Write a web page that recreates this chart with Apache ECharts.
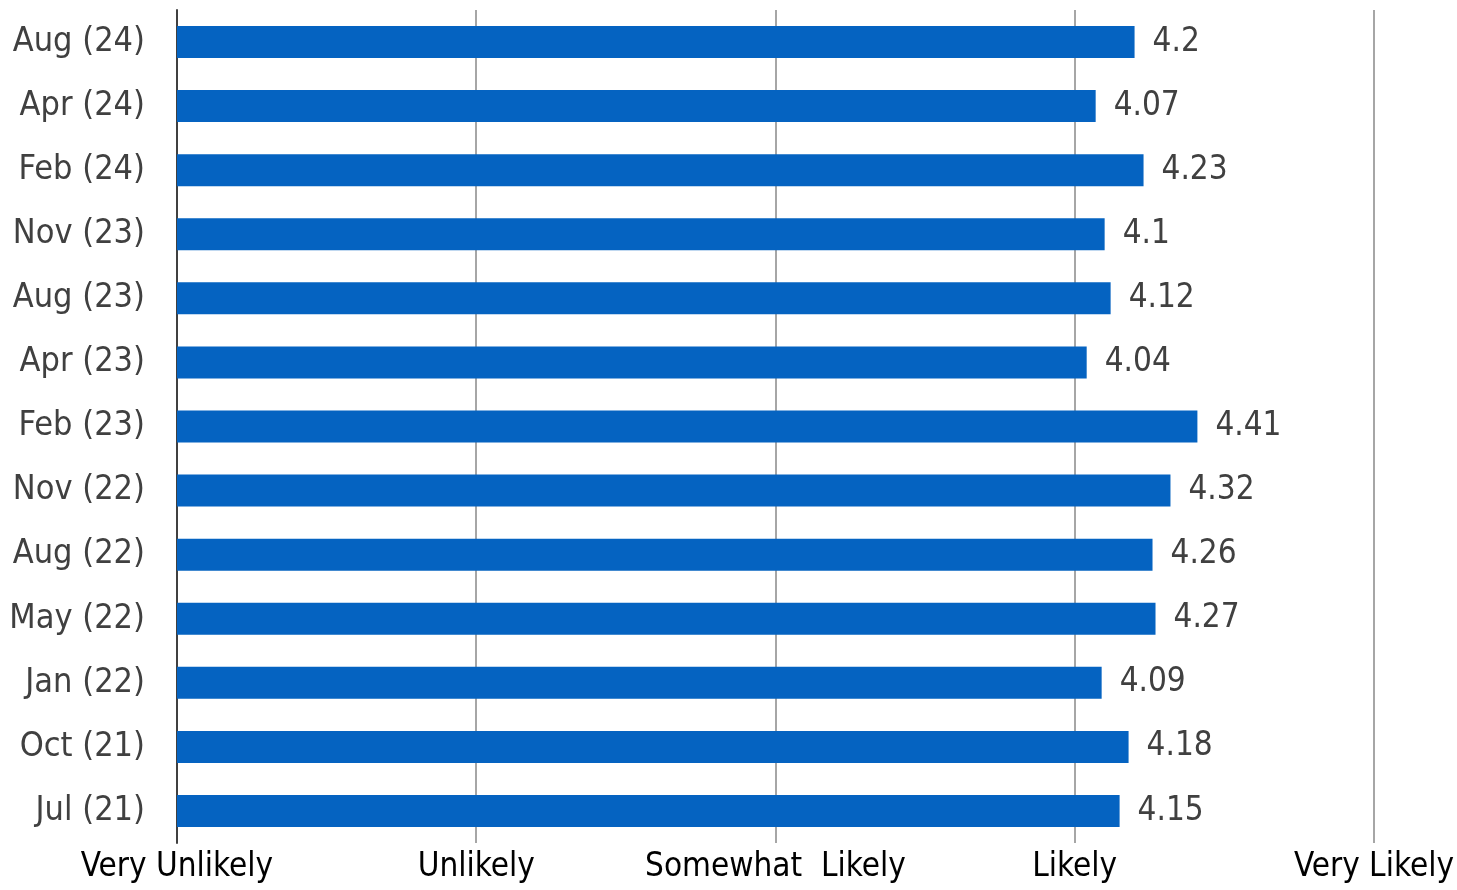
<!DOCTYPE html>
<html>
<head>
<meta charset="utf-8">
<script src="https://cdn.jsdelivr.net/npm/echarts@6/dist/echarts.min.js"></script>
<style>
  html, body { margin: 0; padding: 0; background: #fff; }
  #chart { width: 1457px; height: 890px; }
</style>
</head>
<body>
<div id="chart"></div>
<script>
// survey waves, top to bottom
const waves = ["Aug (24)", "Apr (24)", "Feb (24)", "Nov (23)", "Aug (23)", "Apr (23)", "Feb (23)",
  "Nov (22)", "Aug (22)", "May (22)", "Jan (22)", "Oct (21)", "Jul (21)"];
const scores = [4.2, 4.07, 4.23, 4.1, 4.12, 4.04, 4.41, 4.32, 4.26, 4.27, 4.09, 4.18, 4.15];
const scaleLabels = ["Very Unlikely", "Unlikely", "Somewhat  Likely", "Likely", "Very Likely"];

const textColor = "#404040";
const font = "'DejaVu Sans Condensed', 'DejaVu Sans'";

let myChart = echarts.init(document.getElementById("chart"));
myChart.setOption({
  animation: false,
  grid: { left: 177, right: 72, top: 10, bottom: 47, containLabel: false },
  xAxis: {
    type: "value",
    min: 1,
    max: 5,
    interval: 1,
    axisLine: { show: false },
    axisTick: { show: false },
    splitLine: { show: true, lineStyle: { color: "#a6a6a6", width: 2 } },
    axisLabel: {
      margin: 8,
      color: "#000",
      fontFamily: font,
      fontSize: 33,
      formatter: function (v) { return scaleLabels[v - 1]; }
    }
  },
  yAxis: {
    type: "category",
    inverse: true,
    data: waves,
    axisLine: { show: true, lineStyle: { color: textColor, width: 2 } },
    axisTick: { show: false },
    axisLabel: { margin: 32, color: textColor, fontFamily: font, fontSize: 34, padding: [7, 0, 0, 0] }
  },
  series: [{
    type: "bar",
    data: scores,
    barWidth: 32,
    itemStyle: { color: "#0563c1" },
    label: {
      show: true,
      position: "right",
      distance: 18,
      color: textColor,
      fontFamily: font,
      fontSize: 33,
      padding: [7, 0, 0, 0]
    }
  }]
});
</script>
</body>
</html>
